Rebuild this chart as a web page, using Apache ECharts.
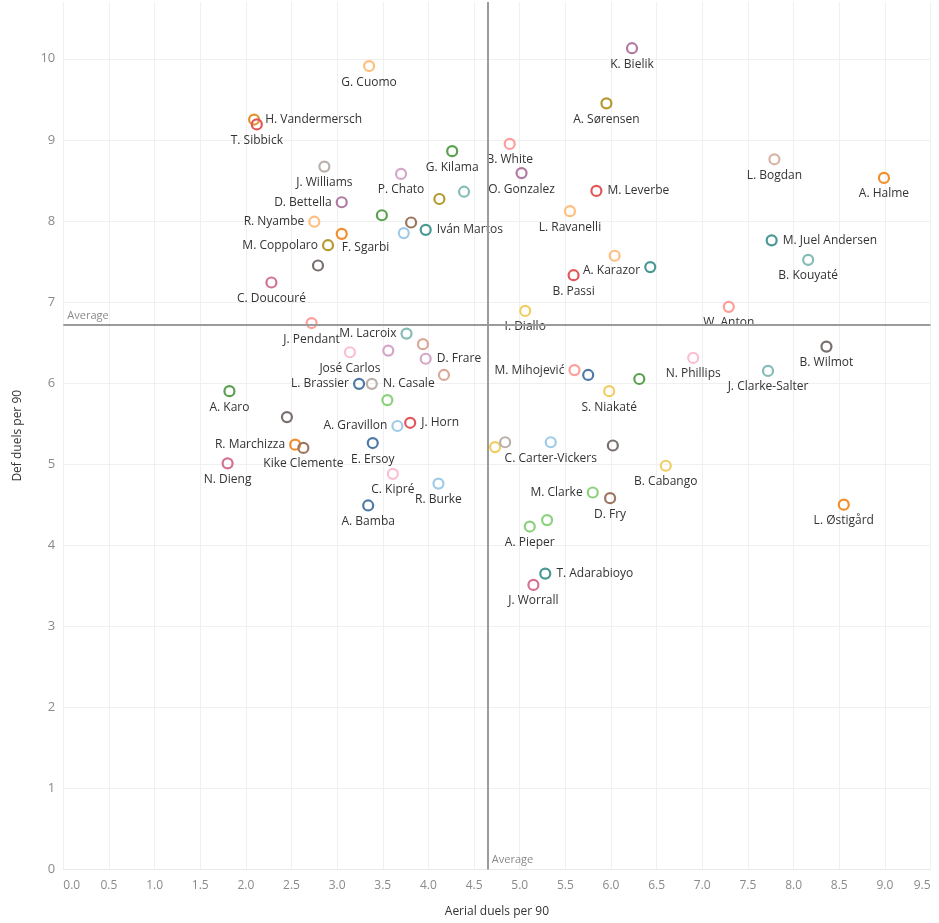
<!DOCTYPE html>
<html>
<head>
<meta charset="utf-8">
<script src="https://cdn.jsdelivr.net/npm/echarts@6/dist/echarts.min.js"></script>
<style>
html,body{margin:0;padding:0;background:#fff;}
#chart{width:939px;height:923px;}
</style>
</head>
<body>
<div id="chart"></div>
<script>
// ---- Data ----
const players = [
  'G. Cuomo','H. Vandermersch','T. Sibbick','G. Kilama','J. Williams','P. Chato','','','D. Bettella','',
  'R. Nyambe','','','Iván Martos','F. Sgarbi','M. Coppolaro','','C. Doucouré','K. Bielik','A. Sørensen',
  'B. White','O. Gonzalez','M. Leverbe','L. Ravanelli','L. Bogdan','A. Halme','M. Juel Andersen','B. Kouyaté','','A. Karazor',
  'B. Passi','W. Anton','I. Diallo','J. Pendant','M. Lacroix','','José Carlos','','D. Frare','',
  'L. Brassier','N. Casale','','A. Karo','','A. Gravillon','J. Horn','R. Marchizza','Kike Clemente','E. Ersoy',
  'N. Dieng','C. Kipré','R. Burke','A. Bamba','B. Wilmot','N. Phillips','J. Clarke-Salter','M. Mihojević','','',
  'S. Niakaté','','','C. Carter-Vickers','','B. Cabango','M. Clarke','D. Fry','L. Østigård','',
  'A. Pieper','T. Adarabioyo','J. Worrall'
];
const aerialDuels = [
  3.35,2.09,2.12,4.26,2.86,3.70,4.39,4.12,3.05,3.49,
  2.75,3.81,3.73,3.97,3.05,2.90,2.79,2.28,6.23,5.95,
  4.89,5.02,5.84,5.55,7.79,8.99,7.76,8.16,6.04,6.43,
  5.59,7.29,5.06,2.72,3.76,3.94,3.14,3.56,3.97,4.17,
  3.24,3.38,3.55,1.82,2.45,3.66,3.80,2.54,2.63,3.39,
  1.80,3.61,4.11,3.34,8.36,6.90,7.72,5.60,5.75,6.31,
  5.98,4.73,4.84,5.34,6.02,6.60,5.80,5.99,8.55,5.30,
  5.11,5.28,5.15
];
const defDuels = [
  9.91,9.25,9.19,8.86,8.67,8.58,8.36,8.27,8.23,8.07,
  7.99,7.98,7.85,7.89,7.84,7.70,7.45,7.24,10.13,9.45,
  8.95,8.59,8.37,8.12,8.76,8.53,7.76,7.52,7.57,7.43,
  7.33,6.94,6.89,6.74,6.61,6.48,6.38,6.40,6.30,6.10,
  5.99,5.99,5.79,5.90,5.58,5.47,5.51,5.24,5.20,5.26,
  5.01,4.88,4.76,4.49,6.45,6.31,6.15,6.16,6.10,6.05,
  5.90,5.21,5.27,5.27,5.23,4.98,4.65,4.58,4.50,4.31,
  4.23,3.65,3.51
];
const avgAerial = 4.65;
const avgDef = 6.72;
const xAxisTitle = 'Aerial duels per 90';
const yAxisTitle = 'Def duels per 90';
const avgLabel = 'Average';

// ---- Styles (kept separate from data) ----
const pointColors = [
  '#FFBE7D','#E0952F','#E15759','#59A14F','#BAB0AC','#D4A6C8','#86BCB6','#B6992D','#B07AA1','#59A14F',
  '#FFBE7D','#9D7660','#A0CBE8','#499894','#F28E2B','#B6992D','#79706E','#D37295','#B07AA1','#B6992D',
  '#FF9D9A','#B07AA1','#E15759','#FFBE7D','#D7B5A6','#F28E2B','#499894','#86BCB6','#FFBE7D','#499894',
  '#E15759','#FF9D9A','#F1CE63','#FF9D9A','#86BCB6','#D9A896','#FABFD2','#D4A6C8','#D4A6C8','#D9A896',
  '#4E79A7','#BAB0AC','#8CD17D','#59A14F','#79706E','#A0CBE8','#E15759','#F28E2B','#9D7660','#4E79A7',
  '#D37295','#FABFD2','#A0CBE8','#4E79A7','#79706E','#FABFD2','#86BCB6','#FF9D9A','#4E79A7','#59A14F',
  '#F1CE63','#F1CE63','#BAB0AC','#A0CBE8','#79706E','#F1CE63','#8CD17D','#9D7660','#F28E2B','#8CD17D',
  '#8CD17D','#499894','#D37295'
];
const SYM = 10;
const labelLeft = ['D. Bettella','R. Nyambe','M. Coppolaro','M. Lacroix','L. Brassier','A. Gravillon','R. Marchizza','M. Mihojević','M. Clarke'];
const labelRight = ['H. Vandermersch','Iván Martos','M. Leverbe','M. Juel Andersen','N. Casale','D. Frare','J. Horn','T. Adarabioyo'];
// custom label anchors relative to the symbol box (pixels)
const labelCustom = {
  'F. Sgarbi': { position: [SYM / 2 + 25, SYM + 4], align: 'center', verticalAlign: 'top' },
  'A. Karazor': { position: [-4, SYM / 2 + 5], align: 'right', verticalAlign: 'middle' }
};

const FONT = '"Open Sans", "Noto Sans", sans-serif';

const seriesData = players.map((name, i) => {
  let lab = { show: name !== '', position: 'bottom', distance: 4 };
  if (labelLeft.includes(name)) { lab.position = 'left'; lab.distance = 4; }
  if (labelRight.includes(name)) { lab.position = 'right'; lab.distance = 5; }
  if (labelCustom[name]) { Object.assign(lab, labelCustom[name]); delete lab.distance; }
  return {
    name: name,
    value: [aerialDuels[i], defDuels[i]],
    itemStyle: { borderColor: pointColors[i] },
    label: lab
  };
});

const chart = echarts.init(document.getElementById('chart'), null, {renderer: 'canvas'});
const option = {
  animation: false,
  backgroundColor: '#ffffff',
  grid: { left: 63.3, right: 8.5, top: 2, bottom: 53.5, containLabel: false },
  xAxis: {
    type: 'value', min: 0, max: 9.5, interval: 0.5,
    name: xAxisTitle, nameLocation: 'middle', nameGap: 36,
    nameTextStyle: { color: '#333', fontSize: 12, fontFamily: FONT },
    axisLine: { show: true, lineStyle: { color: '#e8e8e8' } },
    axisTick: { show: false },
    axisLabel: { color: '#8a8a8a', fontSize: 12, fontFamily: FONT, margin: 10,
      formatter: v => v.toFixed(1), alignMinLabel: 'left', alignMaxLabel: 'right' },
    splitLine: { show: true, lineStyle: { color: '#f0f0f0', width: 1 } }
  },
  yAxis: {
    type: 'value', min: 0, max: 10.7, interval: 1,
    name: yAxisTitle, nameLocation: 'middle', nameGap: 40,
    nameTextStyle: { color: '#333', fontSize: 12, fontFamily: FONT },
    axisLine: { show: false },
    axisTick: { show: false },
    axisLabel: { color: '#8a8a8a', fontSize: 13, fontFamily: FONT, margin: 8,
      formatter: v => (Math.abs(v - Math.round(v)) < 1e-6 ? String(Math.round(v)) : '') },
    splitLine: { show: true, showMaxLine: false, lineStyle: { color: '#f0f0f0', width: 1 } }
  },
  series: [{
    type: 'scatter',
    symbol: 'circle',
    symbolSize: SYM,
    itemStyle: { color: 'rgba(255,255,255,0)', borderWidth: 2.2, opacity: 1 },
    label: { color: '#333', fontSize: 12, fontFamily: FONT, formatter: p => p.name },
    labelLayout: { hideOverlap: false },
    emphasis: { disabled: true },
    data: seriesData,
    markLine: {
      silent: true,
      symbol: 'none',
      label: { show: false },
      lineStyle: { color: '#9b9b9b', width: 2, type: 'solid' },
      data: [ { xAxis: avgAerial }, { yAxis: avgDef } ]
    },
    z: 3
  }]
};
chart.setOption(option);

// "Average" annotations anchored to the reference lines through the axes' scales
const pV = chart.convertToPixel({gridIndex: 0}, [avgAerial, 0]);
const pH = chart.convertToPixel({gridIndex: 0}, [0, avgDef]);
chart.setOption({
  graphic: [
    { type: 'text', x: pV[0] + 4, y: pV[1] - 4, style: { text: avgLabel, fill: '#8a8a8a', font: '11px ' + FONT, textVerticalAlign: 'bottom' }, z: 10 },
    { type: 'text', x: pH[0] + 4, y: pH[1] - 3, style: { text: avgLabel, fill: '#8a8a8a', font: '11px ' + FONT, textVerticalAlign: 'bottom' }, z: 10 }
  ]
});
</script>
</body>
</html>
